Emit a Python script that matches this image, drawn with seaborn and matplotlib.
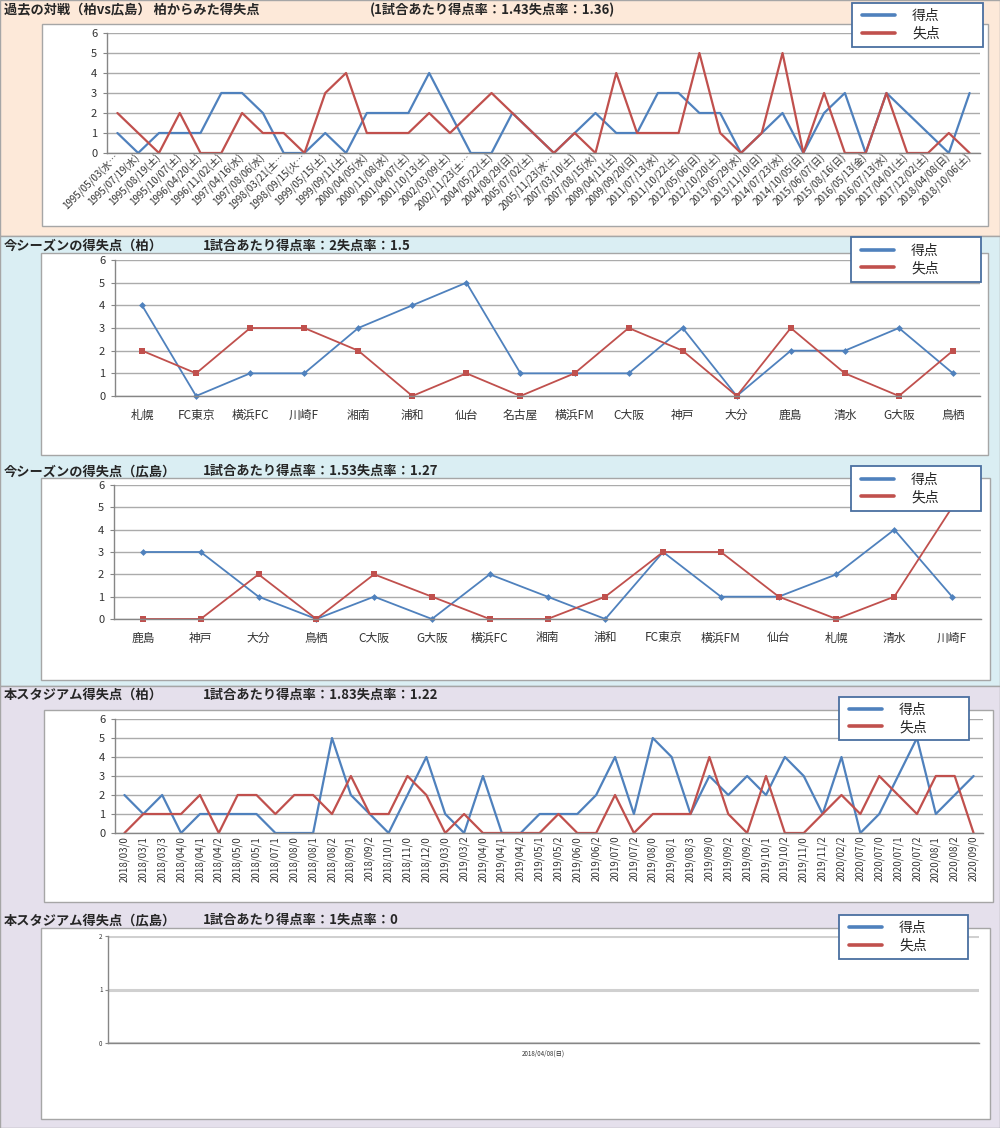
import numpy as np
import matplotlib.pyplot as plt
from matplotlib.patches import Rectangle
from matplotlib.lines import Line2D
import seaborn as sns

W, H = 1000, 1128
BLUE = '#4F81BD'
RED = '#C0504D'

# 過去の対戦(柏vs広島)
past_dates = ['1995/05/03(水…', '1995/07/19(水)', '1995/08/19(土)', '1995/10/07(土)',
              '1996/04/20(土)', '1996/11/02(土)', '1997/04/16(水)', '1997/08/06(水)',
              '1998/03/21(土…', '1998/09/15(火…', '1999/05/15(土)', '1999/09/11(土)',
              '2000/04/05(水)', '2000/11/08(水)', '2001/04/07(土)', '2001/10/13(土)',
              '2002/03/09(土)', '2002/11/23(土…', '2004/05/22(土)', '2004/08/29(日)',
              '2005/07/02(土)', '2005/11/23(水…', '2007/03/10(土)', '2007/08/15(水)',
              '2009/04/11(土)', '2009/09/20(日)', '2011/07/13(水)', '2011/10/22(土)',
              '2012/05/06(日)', '2012/10/20(土)', '2013/05/29(水)', '2013/11/10(日)',
              '2014/07/23(水)', '2014/10/05(日)', '2015/06/07(日)', '2015/08/16(日)',
              '2016/05/13(金)', '2016/07/13(水)', '2017/04/01(土)', '2017/12/02(土)',
              '2018/04/08(日)', '2018/10/06(土)']
past_gf = [1, 0, 1, 1, 1, 3, 3, 2, 0, 0, 1, 0, 2, 2, 2, 4, 2, 0, 0, 2, 1,
           0, 1, 2, 1, 1, 3, 3, 2, 2, 0, 1, 2, 0, 2, 3, 0, 3, 2, 1, 0, 3]
past_ga = [2, 1, 0, 2, 0, 0, 2, 1, 1, 0, 3, 4, 1, 1, 1, 2, 1, 2, 3, 2, 1,
           0, 1, 0, 4, 1, 1, 1, 5, 1, 0, 1, 5, 0, 3, 0, 0, 3, 0, 0, 1, 0]

# 今シーズン(柏)
kashiwa_teams = ['札幌', 'FC東京', '横浜FC', '川崎F', '湘南', '浦和', '仙台', '名古屋',
                 '横浜FM', 'C大阪', '神戸', '大分', '鹿島', '清水', 'G大阪', '鳥栖']
kashiwa_gf = [4, 0, 1, 1, 3, 4, 5, 1, 1, 1, 3, 0, 2, 2, 3, 1]
kashiwa_ga = [2, 1, 3, 3, 2, 0, 1, 0, 1, 3, 2, 0, 3, 1, 0, 2]

# 今シーズン(広島)
hiro_teams = ['鹿島', '神戸', '大分', '鳥栖', 'C大阪', 'G大阪', '横浜FC', '湘南',
              '浦和', 'FC東京', '横浜FM', '仙台', '札幌', '清水', '川崎F']
hiro_gf = [3, 3, 1, 0, 1, 0, 2, 1, 0, 3, 1, 1, 2, 4, 1]
hiro_ga = [0, 0, 2, 0, 2, 1, 0, 0, 1, 3, 3, 1, 0, 1, 5]

# 本スタジアム(柏)
stadium_dates = ['2018/03/0', '2018/03/1', '2018/03/3', '2018/04/0', '2018/04/1', '2018/04/2',
                 '2018/05/0', '2018/05/1', '2018/07/1', '2018/08/0', '2018/08/1', '2018/08/2',
                 '2018/09/1', '2018/09/2', '2018/10/1', '2018/11/0', '2018/12/0', '2019/03/0',
                 '2019/03/2', '2019/04/0', '2019/04/1', '2019/04/2', '2019/05/1', '2019/05/2',
                 '2019/06/0', '2019/06/2', '2019/07/0', '2019/07/2', '2019/08/0', '2019/08/1',
                 '2019/08/3', '2019/09/0', '2019/09/2', '2019/09/2', '2019/10/1', '2019/10/2',
                 '2019/11/0', '2019/11/2', '2020/02/2', '2020/07/0', '2020/07/0', '2020/07/1',
                 '2020/07/2', '2020/08/1', '2020/08/2', '2020/09/0']
stadium_gf = [2, 1, 2, 0, 1, 1, 1, 1, 0, 0, 0, 5, 2, 1, 0, 2, 4, 1, 0, 3, 0, 0, 1,
              1, 1, 2, 4, 1, 5, 4, 1, 3, 2, 3, 2, 4, 3, 1, 4, 0, 1, 3, 5, 1, 2, 3]
stadium_ga = [0, 1, 1, 1, 2, 0, 2, 2, 1, 2, 2, 1, 3, 1, 1, 3, 2, 0, 1, 0, 0, 0, 0,
              1, 0, 0, 2, 0, 1, 1, 1, 4, 1, 0, 3, 0, 0, 1, 2, 1, 3, 2, 1, 3, 3, 0]

# 本スタジアム(広島)
hstadium_dates = ['2018/04/08(日)']
hstadium_gf = [1]
hstadium_ga = [0]

sns.set_theme(style='white')
plt.rcParams['font.family'] = ['Noto Sans CJK JP', 'DejaVu Sans']

fig = plt.figure(figsize=(W / 100, H / 100), dpi=100)


def fr(x0, y0, x1, y1):
    return [x0 / W, 1 - y1 / H, (x1 - x0) / W, (y1 - y0) / H]


def rect(x0, y0, x1, y1, fc, ec, lw=1.0, z=-2):
    r = Rectangle((x0 / W, 1 - y1 / H), (x1 - x0) / W, (y1 - y0) / H,
                  transform=fig.transFigure, facecolor=fc, edgecolor=ec, lw=lw, zorder=z)
    fig.add_artist(r)


def title(y, left, right):
    fig.text(4 / W, 1 - y / H, left, fontsize=9.5, fontweight='bold', va='center')
    fig.text(right[0] / W, 1 - y / H, right[1], fontsize=9.5, fontweight='bold', va='center')


def legend(x0, y0, x1, y1):
    rect(x0, y0, x1, y1, 'white', '#4A6FA0', lw=1.3, z=4)
    hs = [Line2D([], [], color=BLUE, lw=2.6), Line2D([], [], color=RED, lw=2.6)]
    lg = fig.legend(hs, ['得点', '失点'], loc='center left', frameon=False,
                    bbox_to_anchor=((x0 + 10) / W, 1 - (y0 + y1) / 2 / H),
                    fontsize=10, handlelength=2.4, handletextpad=1.2,
                    labelspacing=0.25, borderpad=0, borderaxespad=0)
    lg.set_zorder(6)


def panel(box, labels, gf, ga, ymax, marks, rot, xfs, yfs, xpad, lw):
    ax = fig.add_axes(fr(*box))
    ax.set_facecolor('none')
    pos = np.arange(len(labels))
    kb, kr = {}, {}
    if marks:
        kb = dict(marker='D', markersize=3.5, markeredgewidth=0)
        kr = dict(marker='s', markersize=4.5, markeredgewidth=0)
    sns.lineplot(x=pos, y=gf, color=BLUE, lw=lw, ax=ax, errorbar=None, clip_on=False, **kb)
    sns.lineplot(x=pos, y=ga, color=RED, lw=lw, ax=ax, errorbar=None, clip_on=False, **kr)
    ax.set_xlim(-0.5, len(labels) - 0.5)
    ax.set_ylim(0, ymax)
    ax.set_yticks(range(ymax + 1))
    ax.set_xticks(pos)
    ax.set_xticks(np.arange(len(labels) + 1) - 0.5, minor=True)
    if rot == 45:
        ax.set_xticklabels(labels, rotation=45, ha='right', va='center', rotation_mode='anchor')
    elif rot == 90:
        ax.set_xticklabels(labels, rotation=90, ha='center', va='top')
    else:
        ax.set_xticklabels(labels)
    ax.tick_params(axis='x', which='major', length=0, pad=xpad, labelsize=xfs, colors='#333333')
    ax.tick_params(axis='x', which='minor', length=4, width=0.8, color='#868686', direction='out')
    ax.tick_params(axis='y', length=3, width=0.8, color='#868686', pad=4,
                   labelsize=yfs, colors='#333333', left=True)
    ax.grid(axis='y', color='#ABABAB', lw=1.0)
    ax.set_axisbelow(True)
    for s in ['top', 'right']:
        ax.spines[s].set_visible(False)
    for s in ['left', 'bottom']:
        ax.spines[s].set_color('#868686')
        ax.spines[s].set_linewidth(1.0)
    ax.set_xlabel('')
    ax.set_ylabel('')
    return ax


# backgrounds
rect(0, 0, 1000, 236, '#FDE9D9', '#A6A6A6')
rect(0, 236, 1000, 686, '#DAEEF3', '#A6A6A6')
rect(0, 686, 1000, 1128, '#E5E0EC', '#A6A6A6')

# chart boxes
rect(42, 24, 988, 226, 'white', '#A6A6A6', z=-1)
rect(41, 253, 988, 455, 'white', '#A6A6A6', z=-1)
rect(41, 478, 990, 680, 'white', '#A6A6A6', z=-1)
rect(44, 710, 993, 902, 'white', '#A6A6A6', z=-1)
rect(41, 928, 990, 1119, 'white', '#A6A6A6', z=-1)

title(10, '過去の対戦（柏vs広島） 柏からみた得失点', (370, '(1試合あたり得点率：1.43失点率：1.36)'))
title(246, '今シーズンの得失点（柏）', (203, '1試合あたり得点率：2失点率：1.5'))
title(471, '今シーズンの得失点（広島）', (203, '1試合あたり得点率：1.53失点率：1.27'))
title(695, '本スタジアム得失点（柏）', (203, '1試合あたり得点率：1.83失点率：1.22'))
title(920, '本スタジアム得失点（広島）', (203, '1試合あたり得点率：1失点率：0'))

panel((107, 33, 980, 153), past_dates, past_gf, past_ga, 6, False, 45, 7.1, 8, 2, 1.6)
panel((115, 260, 980, 396), kashiwa_teams, kashiwa_gf, kashiwa_ga, 6, True, 0, 8.5, 8, 9, 1.3)
panel((114, 485, 981, 619), hiro_teams, hiro_gf, hiro_ga, 6, True, 0, 8.5, 8, 9, 1.3)
panel((115, 719, 983, 833), stadium_dates, stadium_gf, stadium_ga, 6, False, 90, 7, 8, 2, 1.6)
ax5 = panel((108, 936, 979, 1043), hstadium_dates, hstadium_gf, hstadium_ga, 2, False, 0, 4.5, 4.5, 5, 1.6)
ax5.tick_params(axis='y', length=2, pad=2)
ax5.grid(axis='y', color='#D0D0D0', lw=2.2)

legend(852, 3, 983, 47)
legend(851, 237, 981, 282)
legend(851, 466, 981, 511)
legend(839, 697, 969, 740)
legend(839, 915, 968, 959)

fig.savefig('out.png', dpi=100)
